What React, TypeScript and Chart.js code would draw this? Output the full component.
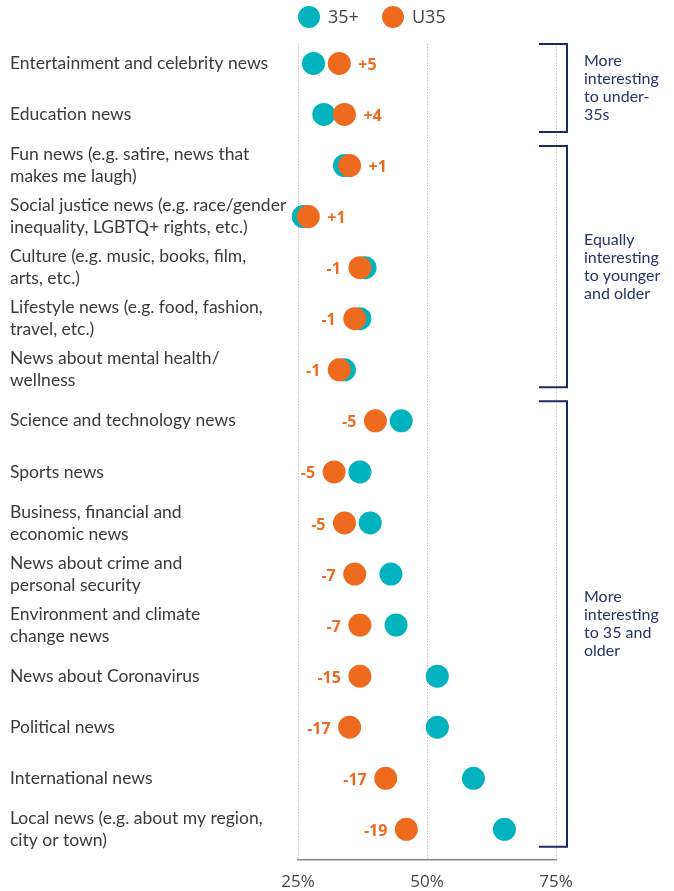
import React, { useEffect, useRef } from 'react';
import { Chart, registerables } from 'chart.js';

Chart.register(...registerables);

const categories: string[][] = [
  ['Entertainment and celebrity news'],
  ['Education news'],
  ['Fun news (e.g. satire, news that', 'makes me laugh)'],
  ['Social justice news (e.g. race/gender', 'inequality, LGBTQ+ rights, etc.)'],
  ['Culture (e.g. music, books, film,', 'arts, etc.)'],
  ['Lifestyle news (e.g. food, fashion,', 'travel, etc.)'],
  ['News about mental health/', 'wellness'],
  ['Science and technology news'],
  ['Sports news'],
  ['Business, financial and', 'economic news'],
  ['News about crime and', 'personal security'],
  ['Environment and climate', 'change news'],
  ['News about Coronavirus'],
  ['Political news'],
  ['International news'],
  ['Local news (e.g. about my region,', 'city or town)'],
];

const over35 = [28, 30, 34, 26, 38, 37, 34, 45, 37, 39, 43, 44, 52, 52, 59, 65];
const under35 = [33, 34, 35, 27, 37, 36, 33, 40, 32, 34, 36, 37, 37, 35, 42, 46];
const diffLabels = ['+5', '+4', '+1', '+1', '-1', '-1', '-1', '-5', '-5', '-5', '-7', '-7', '-15', '-17', '-17', '-19'];

const xTicks = [25, 50, 75];

const groups = [
  { from: 0, to: 1, text: ['More', 'interesting', 'to under-', '35s'] },
  { from: 2, to: 6, text: ['Equally', 'interesting', 'to younger', 'and older'] },
  { from: 7, to: 15, text: ['More', 'interesting', 'to 35 and', 'older'] },
];

const TEAL = '#00b3bf';
const ORANGE = '#ee6a1f';
const NAVY = '#1e2a5e';

export default function App() {
  const ref = useRef<HTMLCanvasElement>(null);

  useEffect(() => {
    if (!ref.current) return;

    const overlayPlugin = {
      id: 'overlay',
      afterDatasetsDraw(chart: any) {
        const ctx = chart.ctx;
        const xs = chart.scales.x;
        const ys = chart.scales.y;
        const area = chart.chartArea;
        // diff labels
        ctx.save();
        ctx.font = 'bold 16px "Open Sans"';
        ctx.fillStyle = ORANGE;
        ctx.textBaseline = 'middle';
        diffLabels.forEach((lab, i) => {
          const ox = xs.getPixelForValue(under35[i]);
          const y = ys.getPixelForValue(i) + 2;
          if (lab.startsWith('+')) {
            ctx.textAlign = 'left';
            ctx.fillText(lab, ox + 19, y);
          } else {
            ctx.textAlign = 'right';
            ctx.fillText(lab, ox - 19, y);
          }
        });
        ctx.restore();

        // brackets
        ctx.save();
        ctx.strokeStyle = NAVY;
        ctx.lineWidth = 2;
        ctx.fillStyle = '#26336a';
        ctx.font = '16px Lato';
        ctx.textAlign = 'left';
        ctx.textBaseline = 'middle';
        const bx = area.right + 11;
        const lx = area.right - 17;
        groups.forEach((g) => {
          const top = ys.getPixelForValue(g.from) - 19.5;
          const bot = ys.getPixelForValue(g.to) + 17.5;
          ctx.beginPath();
          ctx.moveTo(lx, top);
          ctx.lineTo(bx, top);
          ctx.lineTo(bx, bot);
          ctx.lineTo(lx, bot);
          ctx.stroke();
          const lh = 18;
          const mid = (top + bot) / 2;
          const start = mid - ((g.text.length - 1) * lh) / 2;
          g.text.forEach((t, k) => ctx.fillText(t, area.right + 28, start + k * lh));
        });
        ctx.restore();

        // legend
        ctx.save();
        ctx.font = '18px "Open Sans"';
        ctx.fillStyle = '#444444';
        ctx.textBaseline = 'middle';
        ctx.textAlign = 'left';
        const ly = 17;
        const items = [
          { c: TEAL, t: '35+', x: area.left + 11 },
          { c: ORANGE, t: 'U35', x: area.left + 95 },
        ];
        items.forEach((it) => {
          ctx.beginPath();
          ctx.fillStyle = it.c;
          ctx.arc(it.x, ly, 11, 0, Math.PI * 2);
          ctx.fill();
          ctx.fillStyle = '#444444';
          ctx.fillText(it.t, it.x + 19, ly + 1);
        });
        ctx.restore();
      },
    };

    const chart = new Chart(ref.current, {
      type: 'scatter',
      data: {
        datasets: [
          {
            label: '35+',
            data: over35.map((v, i) => ({ x: v, y: i })),
            backgroundColor: TEAL,
            borderWidth: 0,
            pointRadius: 11.5,
            pointHoverRadius: 11.5,
            order: 1,
            clip: false as any,
          },
          {
            label: 'U35',
            data: under35.map((v, i) => ({ x: v, y: i })),
            backgroundColor: ORANGE,
            borderWidth: 0,
            pointRadius: 11.5,
            pointHoverRadius: 11.5,
            order: 0,
            clip: false as any,
          },
        ],
      },
      options: {
        animation: false,
        responsive: false,
        devicePixelRatio: 1,
        layout: { padding: { left: 10, right: 118, top: 44, bottom: 0 } },
        plugins: { legend: { display: false }, tooltip: { enabled: false } },
        scales: {
          x: {
            type: 'linear',
            min: 25,
            max: 75,
            afterBuildTicks: (s: any) => {
              s.ticks = xTicks.map((v) => ({ value: v }));
            },
            afterFit: (s: any) => {
              s.height = 31;
            },
            ticks: {
              callback: (v: any) => v + '%',
              color: '#444444',
              font: { family: '"Open Sans"', size: 17 },
              padding: 12,
            },
            grid: {
              color: '#c4c4c4',
              lineWidth: 1,
              drawTicks: false,
            },
            border: { display: true, color: '#888888', width: 1.5, dash: [1.5, 1.5] },
          },
          y: {
            type: 'linear',
            reverse: true,
            min: -0.38,
            max: 15.6,
            afterBuildTicks: (s: any) => {
              s.ticks = categories.map((_, i) => ({ value: i }));
            },
            afterFit: (s: any) => {
              s.width = 288;
            },
            ticks: {
              autoSkip: false,
              crossAlign: 'far',
              padding: 0,
              color: '#3a3a3a',
              font: { family: 'Lato', size: 17.5, lineHeight: 1.26 },
              callback: (_v: any, i: number) => categories[i],
            },
            grid: { display: false },
            border: { display: false },
          },
        },
      },
      plugins: [overlayPlugin],
    });

    return () => chart.destroy();
  }, []);

  return (
    <div style={{ position: 'fixed', left: 0, top: 0, width: 674, height: 891, background: '#fff' }}>
      <canvas ref={ref} width={674} height={891} style={{ display: 'block' }} />
    </div>
  );
}
